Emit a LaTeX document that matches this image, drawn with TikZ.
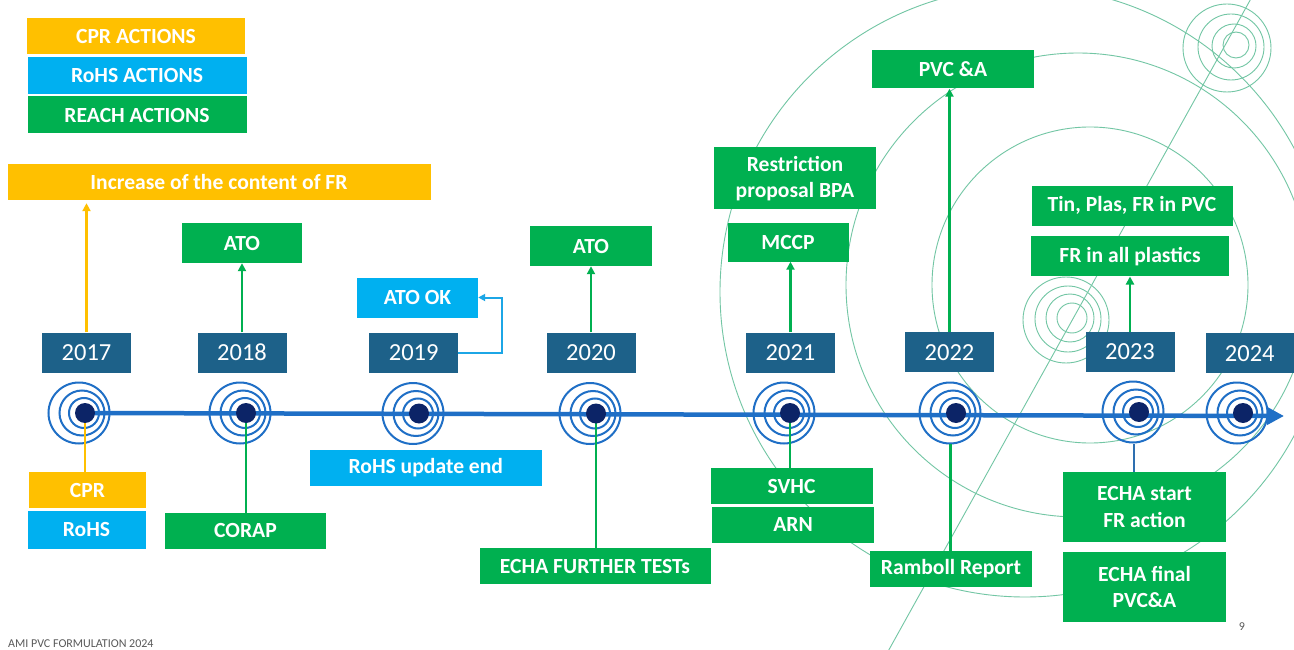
\documentclass[tikz,border=0pt]{standalone}
\usepackage{fontspec}
\setmainfont{Carlito}
\usetikzlibrary{arrows.meta}
\definecolor{cpr}{HTML}{FFC000}
\definecolor{rohs}{HTML}{00B0F0}
\definecolor{reach}{HTML}{00B050}
\definecolor{yearc}{HTML}{1D6189}
\definecolor{tline}{HTML}{1F6FC6}
\definecolor{dotc}{HTML}{0C2467}
\definecolor{ringbg}{HTML}{72C6A4}
\definecolor{rohsline}{HTML}{1CA6E6}
\definecolor{thinblue}{HTML}{2E6FB0}
\definecolor{footgray}{HTML}{595959}
\pgfdeclarelayer{bg}
\pgfsetlayers{bg,main}
\begin{document}
\begin{tikzpicture}[x=1pt,y=-1pt,
  lbl/.style={fill=#1, text=white, font=\fontsize{21.6}{26.5}\selectfont\bfseries, inner sep=0pt, align=center},
  sz/.style 2 args={minimum width=#1pt, minimum height=#2pt},
  yearbox/.style={fill=yearc, text=white, font=\fontsize{24.5}{27}\selectfont, minimum width=89pt, minimum height=40pt, inner sep=0pt},
  dot/.style={circle, fill=dotc, minimum size=20pt, inner sep=0pt},
  ring/.style={draw=tline, line width=2pt},
  bgring/.style={draw=ringbg, line width=0.9pt},
  conn/.style={line width=2.8pt, draw=#1},
  arr/.style={line width=2.8pt, draw=#1, -{Triangle[length=8pt,width=8pt]}},
  arrbl/.style={line width=2pt, draw=rohsline, -{Triangle[length=7pt,width=7pt]}},
  thinbl/.style={line width=1.2pt, draw=thinblue},
  timeline/.style={line width=4.5pt, draw=tline, -{Triangle[length=17pt,width=17pt]}},
]
\useasboundingbox (0,0) rectangle (1294,650);

% legend
\node[lbl=cpr, sz={218}{36}] (lcpr) at (136,36) {CPR ACTIONS};
\node[lbl=rohs, sz={219}{37}] (lrohs) at (137,75.5) {RoHS ACTIONS};
\node[lbl=reach, sz={219}{37}] (lreach) at (137,115) {REACH ACTIONS};

% years
\node[yearbox] (y17) at (86.5,352.5) {2017};
\node[yearbox] (y18) at (242,352.5) {2018};
\node[yearbox] (y19) at (413.7,352.7) {2019};
\node[yearbox] (y20) at (591,352.5) {2020};
\node[yearbox] (y21) at (790.5,352.5) {2021};
\node[yearbox] (y22) at (949.5,352.2) {2022};
\node[yearbox] (y23) at (1130,352) {2023};
\node[yearbox, minimum width=88.5pt] (y24) at (1249.8,353.3) {2024};

% dots
\node[dot] (d17) at (85,413) {};
\node[dot] (d18) at (246,413) {};
\node[dot] (d19) at (419,413.5) {};
\node[dot] (d20) at (596,413.5) {};
\node[dot] (d21) at (790,413) {};
\node[dot] (d22) at (956,413) {};
\node[dot] (d23) at (1139,412) {};
\node[dot] (d24) at (1243,413) {};
\coordinate (tip) at (1284,416);

% action boxes
\node[lbl=cpr, sz={423}{36}] (inc) at (219,182) {Increase of the content of FR};
\node[lbl=cpr, sz={117}{36}] (cpr) at (87.5,490.3) {CPR};
\node[lbl=rohs, sz={118}{37.5}] (rohs) at (86.5,529.8) {RoHS};
\node[lbl=reach, sz={120}{40}] (ato18) at (242,243) {ATO};
\node[lbl=reach, sz={161}{36}] (corap) at (245.5,530.7) {CORAP};
\node[lbl=rohs, sz={121}{40}] (atook) at (417.5,297.5) {ATO OK};
\node[lbl=rohs, sz={232}{36}] (rohsupd) at (425.8,468) {RoHS update end};
\node[lbl=reach, sz={122}{40}] (ato20) at (591,246) {ATO};
\node[lbl=reach, sz={231}{36}] (echaft) at (595,566.3) {ECHA FURTHER TESTs};
\node[lbl=reach, sz={162}{62}] (restr) at (795,178.5) {Restriction\\proposal BPA};
\node[lbl=reach, sz={121}{39}] (mccp) at (788,242) {MCCP};
\node[lbl=reach, sz={162}{36}] (svhc) at (791.6,486) {SVHC};
\node[lbl=reach, sz={162}{36}] (arn) at (793,524.7) {ARN};
\node[lbl=reach, sz={162}{38}] (pvca) at (953,69.5) {PVC \&A};
\node[lbl=reach, sz={162}{36}] (ramboll) at (951,569) {Ramboll Report};
\node[lbl=reach, sz={201}{40}] (tin) at (1132,205.7) {Tin, Plas, FR in PVC};
\node[lbl=reach, sz={198}{40}] (frall) at (1130,256.3) {FR in all plastics};
\node[lbl=reach, sz={163}{70}] (echastart) at (1144.5,507) {ECHA start\\FR action};
\node[lbl=reach, sz={163}{70}] (echafinal) at (1144.5,587) {ECHA final\\PVC\&A};

% footer
\node[anchor=north west, font=\fontsize{12}{13}\selectfont, text=footgray, inner sep=0pt] (foot) at (8,640) {AMI PVC FORMULATION 2024};
\node[font=\fontsize{12}{13}\selectfont, text=footgray, inner sep=0pt] (pg) at (1242,627) {9};

\begin{pgfonlayer}{bg}
  \fill[white] (0,0) rectangle (1294,650);
  \begin{scope}
    \clip (0,0) rectangle (1294,650);
    \draw[bgring] (1025,292) circle[radius=305];
    \draw[bgring] (1078,285) circle[radius=232];
    \draw[bgring] (1090,285) circle[radius=158];
    \draw[bgring] (1072,318) circle[radius=15];
    \draw[bgring] (1070,318) circle[radius=24];
    \draw[bgring] (1068,319) circle[radius=33];
    \draw[bgring] (1066,320) circle[radius=43];
    \draw[bgring] (1236,45) circle[radius=13];
    \draw[bgring] (1234,46) circle[radius=22];
    \draw[bgring] (1231,47) circle[radius=33];
    \draw[bgring] (1227,48) circle[radius=44];
    \draw[bgring] (886,655) -- (1253,-5);
  \end{scope}
  % timeline
  \draw[timeline] (d17.center) -- (tip);
  \foreach \x/\yy in {85/413, 246/413, 419/413.5, 596/413.5, 790/413, 956/413, 1139/412, 1243/413} {
    \draw[ring] (\x-6,\yy) circle[radius=30.5];
    \draw[ring] (\x-3,\yy) circle[radius=22.5];
    \draw[ring] (\x-1,\yy) circle[radius=15];
  }
  % connectors
  \draw[conn=cpr] (d17.center) -- (d17.center |- cpr.north);
  \draw[arr=cpr, line width=2.5pt, shorten >=3pt] (y17.north) -- (y17.north |- inc.south);
  \draw[arr=reach] (y18.north) -- (y18.north |- ato18.south);
  \draw[conn=reach] (d18.center) -- (d18.center |- corap.north);
  \draw[arrbl] (y19.east) -- ++(44,0) |- (atook.east);
  \draw[arr=reach] (y20.north) -- (y20.north |- ato20.south);
  \draw[conn=reach] (d20.center) -- (d20.center |- echaft.north);
  \draw[arr=reach] (y21.north) -- (y21.north |- mccp.south);
  \draw[conn=reach] (d21.center) -- (d21.center |- svhc.north);
  \draw[arr=reach] (y22.north) -- (y22.north |- pvca.south);
  \coordinate (c22) at (950.5,444);
  \draw[conn=reach] (c22) -- (c22 |- ramboll.north);
  \draw[arr=reach] (y23.north) -- (y23.north |- frall.south);
  \coordinate (c23) at (1134,444);
  \draw[thinbl] (c23) -- (c23 |- echastart.north);
\end{pgfonlayer}
\end{tikzpicture}
\end{document}
